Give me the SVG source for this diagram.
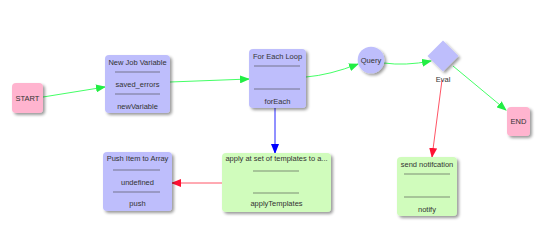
<svg xmlns="http://www.w3.org/2000/svg" width="542" height="250" viewBox="0 0 542 250">
<defs>
<filter id="sh" x="-20%" y="-20%" width="150%" height="150%">
<feGaussianBlur in="SourceAlpha" stdDeviation="1.5"/>
<feOffset dx="2" dy="2" result="b"/>
<feComponentTransfer><feFuncA type="linear" slope="0.4"/></feComponentTransfer>
<feMerge><feMergeNode/><feMergeNode in="SourceGraphic"/></feMerge>
</filter>
<marker id="ag" markerWidth="10" markerHeight="8" refX="9" refY="4" orient="auto" markerUnits="userSpaceOnUse"><path d="M0,0 L10,4 L0,8 z" fill="#22ee44"/></marker>
<marker id="ar" markerWidth="10" markerHeight="8" refX="9" refY="4" orient="auto" markerUnits="userSpaceOnUse"><path d="M0,0 L10,4 L0,8 z" fill="#ff1133"/></marker>
<marker id="ab" markerWidth="10" markerHeight="8" refX="9" refY="4" orient="auto" markerUnits="userSpaceOnUse"><path d="M0,0 L10,4 L0,8 z" fill="#0000ff"/></marker>
</defs>
<style>
text{font-family:"Liberation Sans",Arial,sans-serif;font-size:7.5px;fill:#333;text-anchor:middle}
.p{fill:#bebefc;filter:url(#sh)}
.k{fill:#ffb4cf;filter:url(#sh)}
.g{fill:#d0fcbc;filter:url(#sh)}
.sep{stroke:#444;stroke-width:0.6}
.cg{fill:none;stroke:#44ff66;stroke-width:1;marker-end:url(#ag)}
.cr{fill:none;stroke:#ff5566;stroke-width:1;marker-end:url(#ar)}
.cb{fill:none;stroke:#2222ff;stroke-width:1;marker-end:url(#ab)}
</style>
<rect width="542" height="250" fill="#fff"/>
<g id="connectors">
<path class="cg" d="M43,97 L105,87"/>
<path class="cg" d="M170,82 L249,79"/>
<path class="cg" d="M306,77 Q330,75 358,64"/>
<path class="cg" d="M384,63 Q405,66 431,61"/>
<path class="cg" d="M453,66 L506,110"/>
<path class="cr" d="M442,80 L432,157"/>
<path class="cb" d="M275,108 L275,153"/>
<path class="cr" d="M222,183 L172,183"/>
</g>
<g id="start"><rect class="k" x="12" y="83" width="31" height="30" rx="4"/><text x="27.5" y="100.5">START</text></g>
<g id="newjob"><rect class="p" x="105" y="55" width="65" height="58" rx="4"/>
<text x="137.5" y="64.5">New Job Variable</text><line class="sep" x1="115" y1="72" x2="160" y2="72"/>
<text x="137.5" y="86.5">saved_errors</text><line class="sep" x1="115" y1="94" x2="160" y2="94"/>
<text x="137.5" y="108.5">newVariable</text></g>
<g id="foreach"><rect class="p" x="249" y="49" width="57" height="59" rx="4"/>
<text x="277.5" y="58.5">For Each Loop</text><line class="sep" x1="254" y1="66" x2="300" y2="66"/>
<line class="sep" x1="254" y1="89" x2="300" y2="89"/>
<text x="277.5" y="103.5">forEach</text></g>
<g id="query"><circle class="p" cx="371" cy="60" r="13.3"/><text x="371" y="62.5">Query</text></g>
<g id="eval"><path class="p" d="M443,40.5 L458.5,56 L443,71.5 L427.5,56 z"/><text x="443" y="81.5">Eval</text></g>
<g id="end"><rect class="k" x="507" y="107" width="23" height="29" rx="4"/><text x="518.5" y="124">END</text></g>
<g id="push"><rect class="p" x="103" y="152" width="69" height="59" rx="4"/>
<text x="137.5" y="160.5">Push Item to Array</text><line class="sep" x1="113" y1="170" x2="160" y2="170"/>
<text x="137.5" y="184.5">undefined</text><line class="sep" x1="113" y1="192" x2="160" y2="192"/>
<text x="137.5" y="205.5">push</text></g>
<g id="apply"><rect class="g" x="222" y="153" width="109" height="59" rx="4"/>
<text x="276.5" y="161">apply at set of templates to a...</text><line class="sep" x1="253" y1="171" x2="299" y2="171"/>
<line class="sep" x1="253" y1="193" x2="299" y2="193"/>
<text x="276.5" y="206">applyTemplates</text></g>
<g id="notify"><rect class="g" x="397" y="157" width="60" height="59" rx="4"/>
<text x="427" y="166.5">send notifcation</text><line class="sep" x1="404" y1="174" x2="450" y2="174"/>
<line class="sep" x1="404" y1="197" x2="450" y2="197"/>
<text x="427" y="211.5">notify</text></g>
</svg>
